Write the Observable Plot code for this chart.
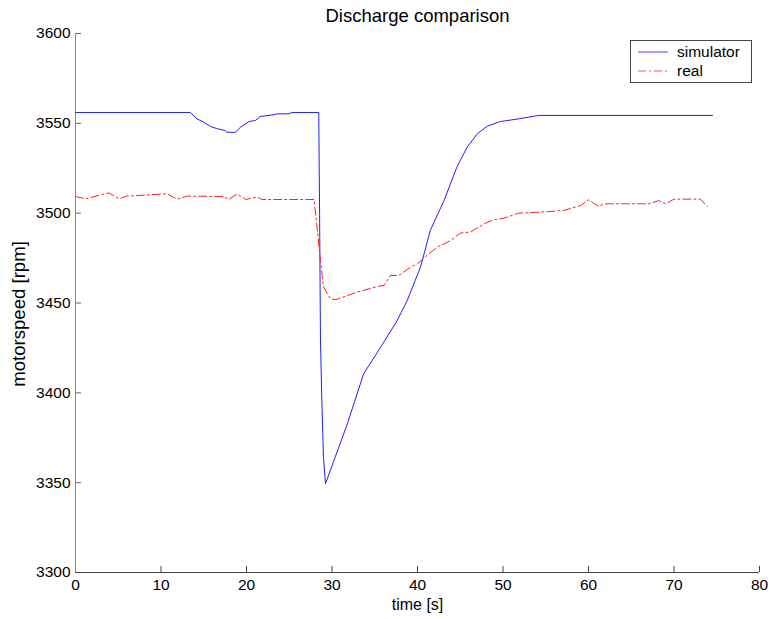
<!DOCTYPE html>
<html>
<head>
<meta charset="utf-8">
<script src="https://cdn.jsdelivr.net/npm/d3@7"></script>
<script src="https://cdn.jsdelivr.net/npm/@observablehq/plot@0.6"></script>
<style>
  body { margin: 0; background: #fff; font-family: "Liberation Sans", Arial, sans-serif; }
  #wrap { position: relative; width: 770px; height: 619px; }
  #legend { position: absolute; left: 630px; top: 40px; width: 120px; height: 41px;
    border: 1px solid #444; background: #fff; font-size: 15.5px; color: #000; }
  #legend .row { position: absolute; left: 7px; height: 18px; display: flex; align-items: center; }
  #legend .row span { margin-left: 9px; }
</style>
</head>
<body>
<div id="wrap"></div>
<script>
const title = "Discharge comparison";
const xLabel = "time [s]";
const yLabel = "motorspeed [rpm]";
const xTicks = [0, 10, 20, 30, 40, 50, 60, 70, 80];
const yTicks = [3300, 3350, 3400, 3450, 3500, 3550, 3600];

const simT = [0, 13.45, 14.2, 15.0, 15.8, 16.6, 17.5, 17.7, 18.7, 19.3, 20.3, 21.05, 21.6, 23.2, 23.6, 24.95, 25.3, 28.45,
  28.55, 28.65, 28.8, 29.0, 29.24, 31.8, 33.7, 35.7, 37.6, 38.8, 40.35, 41.5, 43.1, 44.6, 45.8, 47.0, 48.15, 49.7, 51.85, 54.2, 74.5];
const simV = [3556, 3556, 3552.5, 3550.6, 3548.2, 3547, 3546, 3545, 3545, 3547.9, 3551, 3551.6, 3553.8, 3554.8, 3555.3, 3555.3, 3556, 3556,
  3500, 3430, 3398, 3364, 3349.5, 3382.8, 3410.6, 3425.5, 3440, 3451.4, 3470, 3490.4, 3507, 3525.6, 3536.7, 3544.2, 3548.4, 3551, 3552.5, 3554.4, 3554.4];

const realT = [0, 1.17, 3.9, 5.1, 6.0, 10.7, 11.9, 13.1, 17.3, 17.9, 18.9, 19.9, 21.3, 21.8, 27.9, 28.3, 28.65, 29.0, 29.8, 30.4,
  32.9, 35.3, 36.1, 36.8, 37.8, 39.2, 40.0, 41.1, 42.3, 43.9, 45.0, 46.2, 47.8, 48.9, 50.1, 51.85, 54.4, 57.1, 59.1, 60.0, 61.2, 61.8,
  67.1, 68.2, 69.0, 70.0, 73.1, 73.9];
const realV = [3509.3, 3508, 3511.3, 3508, 3509.5, 3510.8, 3507.8, 3509.5, 3509.3, 3507.6, 3510.6, 3507.6, 3509, 3507.6, 3507.6, 3490, 3473.7, 3459, 3452.4, 3451.8,
  3456, 3459.2, 3459.8, 3465.3, 3465.3, 3470, 3471.8, 3476.5, 3481, 3484.8, 3488.9, 3489.5, 3494.1, 3496.3, 3497.2, 3500, 3500.6, 3501.5, 3504.3, 3507.5, 3503.7, 3505.2,
  3505.2, 3507, 3505.2, 3507.8, 3507.8, 3503.7];

const simData = simT.map((t, i) => ({t, v: simV[i]}));
const realData = realT.map((t, i) => ({t, v: realV[i]}));

const chart = Plot.plot({
  width: 770,
  height: 619,
  marginLeft: 75,
  marginRight: 11,
  marginTop: 33,
  marginBottom: 47,
  style: { fontFamily: "'Liberation Sans', Arial, sans-serif", fontSize: "15.5px", color: "#000", background: "#fff" },
  x: { type: "linear", domain: [0, 80] },
  y: { type: "linear", domain: [3300, 3600] },
  marks: [
    Plot.axisX(xTicks, { tickSize: 0, tickPadding: 6, label: null, tickFormat: d => String(d), fontSize: 15.5, fill: "#000" }),
    Plot.axisY(yTicks, { tickSize: 0, tickPadding: 5, label: null, tickFormat: d => String(d), fontSize: 15.5, fill: "#000" }),
    Plot.ruleX(xTicks, { x: d => d, y1: () => 3300, y2: () => 3300 + 300 * 6 / 539, stroke: "#444" }),
    Plot.ruleY(yTicks, { y: d => d, x1: () => 0, x2: () => 80 * 6 / 684, stroke: "#666" }),
    Plot.ruleY([3300], { stroke: "#444" }),
    Plot.ruleX([0], { stroke: "#888" }),
    Plot.line(simData, { x: "t", y: "v", stroke: "#2020ff", strokeWidth: 1 }),
    Plot.line(realData, { x: "t", y: "v", stroke: "#ff2020", strokeWidth: 1, strokeDasharray: "8,3,2,3" }),
    Plot.text([title], { frameAnchor: "top", lineAnchor: "bottom", dy: -12, fontSize: 18.5, fill: "#000" }),
    Plot.text([xLabel], { frameAnchor: "bottom", lineAnchor: "bottom", dy: 37, fontSize: 16, fill: "#000" }),
    Plot.text([yLabel], { frameAnchor: "left", textAnchor: "middle", lineAnchor: "bottom", dx: -51, dy: 11, rotate: -90, fontSize: 18.6, fill: "#000" })
  ]
});
document.getElementById("wrap").appendChild(chart);

const legendEntries = [
  { name: "simulator", color: "#4444ff", dash: null },
  { name: "real", color: "#ff5555", dash: "8,3,2,3" }
];
const legend = document.createElement("div");
legend.id = "legend";
legendEntries.forEach((e, i) => {
  const row = document.createElement("div");
  row.className = "row";
  row.style.top = (2 + i * 19) + "px";
  row.innerHTML = `<svg width="30" height="4"><line x1="0" y1="2" x2="30" y2="2" stroke="${e.color}" stroke-width="1" ${e.dash ? `stroke-dasharray="${e.dash}"` : ""}/></svg><span>${e.name}</span>`;
  legend.appendChild(row);
});
document.getElementById("wrap").appendChild(legend);
</script>
</body>
</html>
